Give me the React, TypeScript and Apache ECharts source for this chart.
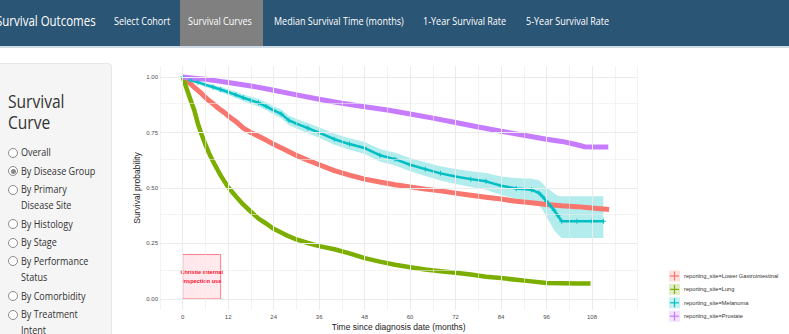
import React, { useEffect, useRef } from 'react';
import * as echarts from 'echarts';

// ---------- page texts ----------
const NAV_TITLE = 'Survival Outcomes';
const NAV_TABS = ['Select Cohort', 'Survival Curves', 'Median Survival Time (months)', '1-Year Survival Rate', '5-Year Survival Rate'];
const ACTIVE_TAB = 'Survival Curves';
const SIDEBAR_TITLE = ['Survival', 'Curve'];
const OPTION_LINES = [
  ['Overall'],
  ['By Disease Group'],
  ['By Primary', 'Disease Site'],
  ['By Histology'],
  ['By Stage'],
  ['By Performance', 'Status'],
  ['By Comorbidity'],
  ['By Treatment', 'Intent'],
];
const SELECTED_OPTION = 1;

// ---------- chart data ----------
const SERIES_NAMES = [
  'reporting_site=Lower Gastrointestinal',
  'reporting_site=Lung',
  'reporting_site=Melanoma',
  'reporting_site=Prostate',
];

const MONTHS_LGI = [0, 1, 2, 3, 4, 5, 6, 7, 8, 9, 10, 11, 12, 14, 16, 18, 20, 22, 24, 27, 30, 33, 36, 40, 44, 48, 52, 56, 60, 64, 68, 72, 76, 80, 84, 88, 92, 96, 100, 104, 108, 112.5];
const SURV_LGI = [1.0, 0.985, 0.97, 0.955, 0.94, 0.925, 0.908, 0.893, 0.88, 0.865, 0.852, 0.84, 0.825, 0.8, 0.77, 0.75, 0.733, 0.716, 0.697, 0.672, 0.647, 0.625, 0.605, 0.578, 0.558, 0.54, 0.527, 0.515, 0.505, 0.495, 0.487, 0.477, 0.467, 0.458, 0.45, 0.44, 0.433, 0.426, 0.42, 0.416, 0.41, 0.403];

const MONTHS_LUNG = [0, 1, 2, 3, 4, 5, 6, 7, 8, 9, 10, 11, 12, 14, 16, 18, 20, 22, 24, 27, 30, 33, 36, 40, 44, 48, 52, 56, 60, 64, 68, 72, 76, 80, 84, 88, 92, 96, 100, 104, 107.6];
const SURV_LUNG = [1.0, 0.95, 0.9, 0.853, 0.79, 0.74, 0.695, 0.655, 0.62, 0.588, 0.557, 0.53, 0.503, 0.463, 0.425, 0.393, 0.362, 0.34, 0.316, 0.29, 0.268, 0.252, 0.238, 0.224, 0.205, 0.184, 0.168, 0.154, 0.143, 0.133, 0.125, 0.118, 0.11, 0.1, 0.094, 0.086, 0.079, 0.072, 0.071, 0.07, 0.07];

const MONTHS_MEL = [0, 2, 4, 6, 8, 10, 12, 14, 16, 18, 20, 22, 24, 26, 28, 30, 33, 36, 40, 44, 48, 52, 56, 60, 64, 68, 72, 76, 80, 84, 88, 92, 94, 95, 96, 97, 98, 99, 100, 104, 108, 111];
const SURV_MEL = [1.0, 0.987, 0.977, 0.965, 0.955, 0.944, 0.932, 0.92, 0.907, 0.895, 0.884, 0.868, 0.85, 0.834, 0.805, 0.79, 0.77, 0.75, 0.72, 0.698, 0.68, 0.648, 0.63, 0.605, 0.585, 0.566, 0.552, 0.54, 0.53, 0.51, 0.498, 0.492, 0.478, 0.46, 0.44, 0.42, 0.4, 0.375, 0.35, 0.35, 0.35, 0.35];
const UPPER_MEL = [1.0, 0.993, 0.985, 0.975, 0.966, 0.956, 0.945, 0.934, 0.922, 0.911, 0.901, 0.886, 0.869, 0.854, 0.826, 0.812, 0.793, 0.774, 0.745, 0.724, 0.707, 0.676, 0.659, 0.635, 0.616, 0.598, 0.586, 0.576, 0.568, 0.552, 0.545, 0.542, 0.535, 0.52, 0.5, 0.49, 0.475, 0.465, 0.463, 0.463, 0.463, 0.463];
const LOWER_MEL = [1.0, 0.981, 0.969, 0.955, 0.944, 0.932, 0.919, 0.906, 0.892, 0.879, 0.867, 0.85, 0.831, 0.814, 0.784, 0.768, 0.747, 0.726, 0.695, 0.672, 0.653, 0.62, 0.601, 0.575, 0.554, 0.534, 0.518, 0.504, 0.492, 0.468, 0.451, 0.442, 0.425, 0.4, 0.37, 0.34, 0.31, 0.29, 0.275, 0.275, 0.275, 0.275];

const MONTHS_PRO = [0, 3, 6, 9, 12, 18, 24, 30, 36, 42, 48, 54, 60, 66, 72, 78, 84, 90, 96, 100, 102, 104, 106, 108, 112.3];
const SURV_PRO = [1.0, 0.995, 0.99, 0.983, 0.976, 0.96, 0.941, 0.92, 0.9, 0.882, 0.866, 0.852, 0.834, 0.815, 0.795, 0.775, 0.756, 0.738, 0.72, 0.71, 0.703, 0.695, 0.686, 0.685, 0.685];

const X_TICKS = [0, 12, 24, 36, 48, 60, 72, 84, 96, 108];
const X_MINOR = [-6, 6, 18, 30, 42, 54, 66, 78, 90, 102, 114, 120];
const Y_TICKS = [0, 0.25, 0.5, 0.75, 1.0];
const Y_MINOR = [0.125, 0.375, 0.625, 0.875];

const X_TITLE = 'Time since diagnosis date (months)';
const Y_TITLE = 'Survival probability';
const ANNOT_TEXT = 'Christie internal\ninspection use';
const ANNOT_X = [0, 10];
const ANNOT_Y = [0, 0.2];

// ---------- styles ----------
const COLORS = ['#F8766D', '#7CAE00', '#00BFC4', '#C77CFF'];
const LINE_WIDTHS = [5, 4.5, 2.5, 5];
const CHART_FONT = '"Liberation Sans", Arial, sans-serif';
const PAGE_FONT = '"Open Sans", sans-serif';
const SQUEEZE = 0.82;
const PLUS_SYMBOL = 'path://M2,0h1v2h2v1h-2v2h-1v-2h-2v-1h2z';

const pairs = (xs: number[], ys: number[]) => xs.map((x, i) => [x, ys[i]]);

function Chart() {
  const ref = useRef<HTMLDivElement>(null);
  useEffect(() => {
    if (!ref.current) return;
    const chart = echarts.init(ref.current, null, { renderer: 'svg' });
    const lines = [
      pairs(MONTHS_LGI, SURV_LGI),
      pairs(MONTHS_LUNG, SURV_LUNG),
      pairs(MONTHS_MEL, SURV_MEL),
      pairs(MONTHS_PRO, SURV_PRO),
    ];
    const gridLine = (w: number) => ({ lineStyle: { color: '#ebebeb', width: w, type: 'solid' } });
    const legendY0 = 276;
    const legendStep = 13.4;
    const legendGraphics: any[] = [];
    SERIES_NAMES.forEach((name, i) => {
      const cy = legendY0 + i * legendStep;
      legendGraphics.push(
        { type: 'rect', shape: { x: 669, y: cy - 5.5, width: 11, height: 11 }, style: { fill: COLORS[i], opacity: 0.22 } },
        { type: 'line', shape: { x1: 670, y1: cy, x2: 679, y2: cy }, style: { stroke: COLORS[i], lineWidth: 1.2 } },
        { type: 'line', shape: { x1: 674.5, y1: cy - 4.5, x2: 674.5, y2: cy + 4.5 }, style: { stroke: COLORS[i], lineWidth: 1.2 } },
        { type: 'text', x: 684, y: cy, style: { text: name, fontSize: 5.7, fill: '#333', fontFamily: CHART_FONT, verticalAlign: 'middle', align: 'left' } },
      );
    });

    const series: any[] = [
      {
        name: 'grid',
        type: 'line',
        data: [[-6, -0.05]],
        symbol: 'none',
        lineStyle: { opacity: 0 },
        silent: true,
        z: 1,
        markLine: {
          silent: true,
          symbol: ['none', 'none'],
          label: { show: false },
          animation: false,
          data: [
            ...Y_TICKS.map((v) => ({ yAxis: v, ...gridLine(1) })),
            ...Y_MINOR.map((v) => ({ yAxis: v, ...gridLine(0.6) })),
            ...X_TICKS.map((v) => ({ xAxis: v, ...gridLine(1) })),
            ...X_MINOR.map((v) => ({ xAxis: v, ...gridLine(0.6) })),
          ],
        },
        markArea: {
          silent: true,
          itemStyle: { color: 'rgba(255, 40, 70, 0.1)', borderColor: 'rgba(255, 50, 70, 0.6)', borderWidth: 1 },
          label: {
            show: true,
            position: 'inside',
            formatter: ANNOT_TEXT,
            color: '#ff1030',
            fontSize: 5.6,
            fontWeight: 'bold',
            lineHeight: 9.5,
            fontFamily: CHART_FONT,
          },
          data: [[{ coord: [ANNOT_X[0], ANNOT_Y[0]] }, { coord: [ANNOT_X[1], ANNOT_Y[1]] }]],
        },
      },
      {
        name: 'mel-band',
        type: 'custom',
        silent: true,
        z: 2,
        data: MONTHS_MEL.map((m, i) => [m, LOWER_MEL[i], UPPER_MEL[i]]),
        renderItem: (params: any, api: any) => {
          if (params.dataIndex !== 0) return null;
          const pts: number[][] = [];
          for (let i = 0; i < MONTHS_MEL.length; i++) pts.push(api.coord([MONTHS_MEL[i], UPPER_MEL[i]]));
          for (let i = MONTHS_MEL.length - 1; i >= 0; i--) pts.push(api.coord([MONTHS_MEL[i], LOWER_MEL[i]]));
          return { type: 'polygon', shape: { points: pts }, style: { fill: COLORS[2], opacity: 0.3 } };
        },
      },
    ];
    [0, 1, 2, 3].forEach((i) => {
      const isMel = i === 2;
      series.push({
        name: SERIES_NAMES[i],
        type: 'line',
        data: lines[i],
        symbol: isMel ? PLUS_SYMBOL : 'none',
        showSymbol: isMel,
        symbolSize: 5,
        smooth: false,
        lineStyle: { color: COLORS[i], width: LINE_WIDTHS[i], cap: 'butt', join: 'round' },
        itemStyle: { color: COLORS[i] },
        z: 3,
      });
    });

    chart.setOption({
      animation: false,
      backgroundColor: 'transparent',
      textStyle: { fontFamily: CHART_FONT },
      grid: { left: 160, right: 151.5, top: 66, bottom: 24, containLabel: false, outerBoundsMode: 'none' },
      xAxis: {
        type: 'value',
        min: -6,
        max: 120,
        axisLine: { show: false },
        splitLine: { show: false },
        axisTick: { show: true, customValues: X_TICKS, length: 3, lineStyle: { color: '#333', width: 0.6 } },
        axisLabel: { customValues: X_TICKS, fontSize: 6, color: '#4d4d4d', margin: 4, fontFamily: CHART_FONT },
        name: X_TITLE,
        nameLocation: 'middle',
        nameGap: 12,
        nameMoveOverlap: false,
        nameTextStyle: { fontSize: 8.5, color: '#222', fontFamily: CHART_FONT },
      },
      yAxis: {
        type: 'value',
        min: -0.05,
        max: 1.05,
        axisLine: { show: false },
        splitLine: { show: false },
        axisTick: { show: true, customValues: Y_TICKS, length: 3, lineStyle: { color: '#333', width: 0.6 } },
        axisLabel: {
          customValues: Y_TICKS,
          fontSize: 6,
          color: '#4d4d4d',
          margin: 2,
          fontFamily: CHART_FONT,
          formatter: (v: number) => v.toFixed(2),
        },
        name: Y_TITLE,
        nameLocation: 'middle',
        nameGap: 19,
        nameMoveOverlap: false,
        nameTextStyle: { fontSize: 8.5, color: '#222', fontFamily: CHART_FONT },
      },
      graphic: legendGraphics,
      series,
    });
    return () => chart.dispose();
  }, []);
  return <div ref={ref} style={{ position: 'absolute', left: 0, top: 0, width: 789, height: 334, pointerEvents: 'none' }} />;
}

function Squeezed({ children }: { children: React.ReactNode }) {
  return (
    <span style={{ display: 'inline-block', transform: `scaleX(${SQUEEZE})`, transformOrigin: 'left center', whiteSpace: 'nowrap' }}>
      {children}
    </span>
  );
}

function Radio({ checked }: { checked: boolean }) {
  return (
    <span
      style={{
        position: 'absolute',
        left: 8,
        top: 3.5,
        width: 8,
        height: 8,
        borderRadius: '50%',
        border: '1px solid #8a8a8a',
        background: '#fff',
        boxSizing: 'content-box',
      }}
    >
      {checked && (
        <span style={{ position: 'absolute', left: 1.5, top: 1.5, width: 5, height: 5, borderRadius: '50%', background: '#8a8a8a' }} />
      )}
    </span>
  );
}

export default function App() {
  const tabLefts = [114, 188, 274, 423, 526];
  return (
    <div style={{ position: 'fixed', left: 0, top: 0, width: 789, height: 334, overflow: 'hidden', background: '#fff', fontFamily: PAGE_FONT }}>
      {/* navbar */}
      <div style={{ position: 'absolute', left: 0, top: 0, width: 789, height: 46, background: '#2b5575' }} />
      <div style={{ position: 'absolute', left: 0, top: 46, width: 789, height: 2, background: '#cfdbe6' }} />
      <div style={{ position: 'absolute', left: -4, top: 0, height: 46, lineHeight: '41px', color: '#fff', fontSize: 14 }}>
        <Squeezed>{NAV_TITLE}</Squeezed>
      </div>
      {NAV_TABS.map((t, i) => {
        const active = t === ACTIVE_TAB;
        return (
          <React.Fragment key={t}>
            {active && <div style={{ position: 'absolute', left: 180, top: 0, width: 83, height: 46, background: '#808080' }} />}
            <div style={{ position: 'absolute', left: tabLefts[i], top: 0, height: 46, lineHeight: '41px', color: '#fff', fontSize: 11 }}>
              <Squeezed>{t}</Squeezed>
            </div>
          </React.Fragment>
        );
      })}
      {/* sidebar */}
      <div
        style={{
          position: 'absolute',
          left: -6,
          top: 63,
          width: 118,
          height: 300,
          background: '#f5f5f5',
          border: '1px solid #e6e6e6',
          borderRadius: 4,
          boxSizing: 'border-box',
        }}
      />
      <div style={{ position: 'absolute', left: 8, top: 91, fontSize: 19, color: '#333' }}>
        {SIDEBAR_TITLE.map((l, i) => (
          <div key={l} style={{ position: 'absolute', left: 0, top: i * 21, height: 21, lineHeight: '21px' }}>
            <Squeezed>{l}</Squeezed>
          </div>
        ))}
      </div>
      <div style={{ position: 'absolute', left: 0, top: 144, width: 113 }}>
        {OPTION_LINES.map((lines, i) => (
          <div key={i} style={{ position: 'relative', marginBottom: 2.6 }}>
            <Radio checked={i === SELECTED_OPTION} />
            {lines.map((l) => (
              <div key={l} style={{ paddingLeft: 21, fontSize: 11, lineHeight: '16px', color: '#333' }}>
                <Squeezed>{l}</Squeezed>
              </div>
            ))}
          </div>
        ))}
      </div>
      <Chart />
    </div>
  );
}
